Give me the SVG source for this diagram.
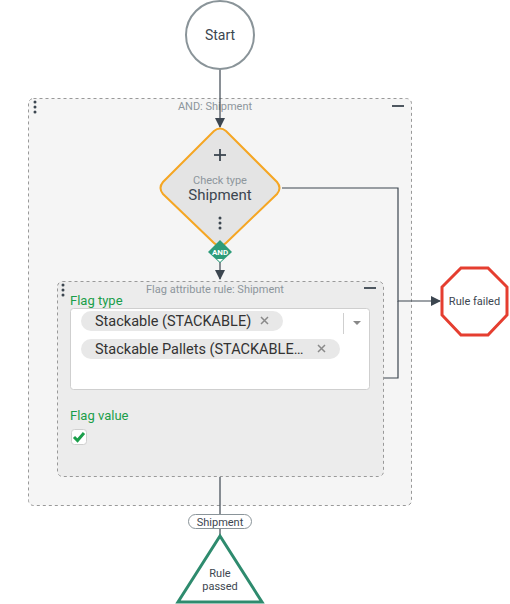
<svg xmlns="http://www.w3.org/2000/svg" width="510" height="604" viewBox="0 0 510 604">
<defs>
<style>
text{font-family:Roboto,"Liberation Sans",sans-serif;fill:#3c4650}
.small{font-size:11px;fill:#8d969c}
.lbl{font-size:13px;fill:#1a9e4a}
.chip{fill:#e8e8e8}
.chipt{font-size:14.5px;fill:#333}
.x{stroke:#8a8a8a;stroke-width:1.5}
.edge{fill:none;stroke:#3c4650;stroke-width:1.2}
.dot{fill:#3c4650}
</style>
<marker id="arr" markerWidth="10" markerHeight="10" refX="9" refY="5" orient="auto" markerUnits="userSpaceOnUse">
<path d="M0,0 L10,5 L0,10 Z" fill="#3c4650"/>
</marker>
</defs>
<rect width="510" height="604" fill="#ffffff"/>

<g id="group-and">
<rect x="28.5" y="98.5" width="383" height="407" rx="5" fill="#f5f5f5" stroke="#999" stroke-dasharray="3,3"/>
<text x="215" y="110" text-anchor="middle" class="small">AND: Shipment</text>
<circle cx="35" cy="102" r="1.5" class="dot"/><circle cx="35" cy="107" r="1.5" class="dot"/><circle cx="35" cy="112" r="1.5" class="dot"/>
<line x1="392" y1="106" x2="404" y2="106" stroke="#3c4650" stroke-width="1.8"/>
</g>

<g id="connectors">
<path class="edge" d="M220,69 V127" marker-end="url(#arr)"/>
<path class="edge" d="M220,262 V279" marker-end="url(#arr)"/>
<path class="edge" d="M282,188 H398 V301 H440" marker-end="url(#arr)"/>
<path class="edge" d="M383,378 H398 V301"/>
<path class="edge" d="M220,477 V514"/>
<path class="edge" d="M220,529 V535"/>
</g>

<g id="start">
<circle cx="220" cy="35" r="34" fill="#fff" stroke="#8a9499" stroke-width="2"/>
<text x="220" y="40" text-anchor="middle" font-size="14">Start</text>
</g>

<g id="check-type">
<path d="M214,131 Q220,126 226,131 L277,182 Q282,188 277,194 L226,243 Q220,249 214,243 L163,194 Q158,188 163,182 Z" fill="#e4e4e4" stroke="#f5a623" stroke-width="2"/>
<line x1="214" y1="155" x2="226" y2="155" stroke="#3c4650" stroke-width="1.8"/>
<line x1="220" y1="149" x2="220" y2="161" stroke="#3c4650" stroke-width="1.8"/>
<text x="220" y="184" text-anchor="middle" class="small">Check type</text>
<text x="220" y="200" text-anchor="middle" font-size="15">Shipment</text>
<circle cx="220" cy="218" r="1.5" class="dot"/><circle cx="220" cy="223" r="1.5" class="dot"/><circle cx="220" cy="228" r="1.5" class="dot"/>
</g>

<g id="and-badge">
<path d="M220,240 L232,252 L220,263 L208,252 Z" fill="#2e9c7a"/>
<text x="220" y="255" text-anchor="middle" font-size="8" font-weight="bold" style="fill:#fff">AND</text>
<path d="M217,259 L223,259 L220,262 Z" fill="#fff"/>
</g>

<g id="flag-rule">
<rect x="57.5" y="281.5" width="326" height="195" rx="5" fill="#ececec" stroke="#999" stroke-dasharray="3,3"/>
<text x="215" y="293" text-anchor="middle" class="small">Flag attribute rule: Shipment</text>
<circle cx="63" cy="285" r="1.5" class="dot"/><circle cx="63" cy="290" r="1.5" class="dot"/><circle cx="63" cy="295" r="1.5" class="dot"/>
<line x1="364" y1="288" x2="376" y2="288" stroke="#3c4650" stroke-width="1.8"/>
<text x="70" y="305" class="lbl">Flag type</text>
<rect x="70.5" y="308.5" width="299" height="81" rx="3" fill="#fff" stroke="#cfcfcf"/>
<rect x="81" y="311" width="202" height="20" rx="10" class="chip"/>
<text x="95" y="326" class="chipt">Stackable (STACKABLE)</text>
<path class="x" d="M261,317 L268,324 M268,317 L261,324"/>
<rect x="81" y="339" width="259" height="20" rx="10" class="chip"/>
<text x="95" y="354" class="chipt">Stackable Pallets (STACKABLE…</text>
<path class="x" d="M318,345 L325,352 M325,345 L318,352"/>
<line x1="343.5" y1="313" x2="343.5" y2="334" stroke="#cfcfcf"/>
<path d="M353,321 L361,321 L357,325 Z" fill="#888"/>
<text x="70" y="420" class="lbl">Flag value</text>
<rect x="71.5" y="429.5" width="15" height="15" rx="3" fill="#fff" stroke="#cfcfcf"/>
<path d="M74,437 L77.5,440.5 L84,433" fill="none" stroke="#1a9e4a" stroke-width="3"/>
</g>

<g id="edge-label">
<rect x="188.5" y="514.5" width="63" height="14" rx="7" fill="#fff" stroke="#8a9499"/>
<text x="220" y="525.5" text-anchor="middle" font-size="11">Shipment</text>
</g>

<g id="rule-passed">
<path d="M220,536 L262,602 L178,602 Z" fill="#fff" stroke="#2e8b6e" stroke-width="3" stroke-linejoin="miter"/>
<text x="220" y="577" text-anchor="middle" font-size="11">Rule</text>
<text x="220" y="590" text-anchor="middle" font-size="11">passed</text>
</g>

<g id="rule-failed">
<path d="M461,268 L488,268 L507,287 L507,315 L488,335 L461,335 L442,315 L442,287 Z" fill="#fff" stroke="#e53e30" stroke-width="3"/>
<text x="474.5" y="305" text-anchor="middle" font-size="11">Rule failed</text>
</g>
</svg>
